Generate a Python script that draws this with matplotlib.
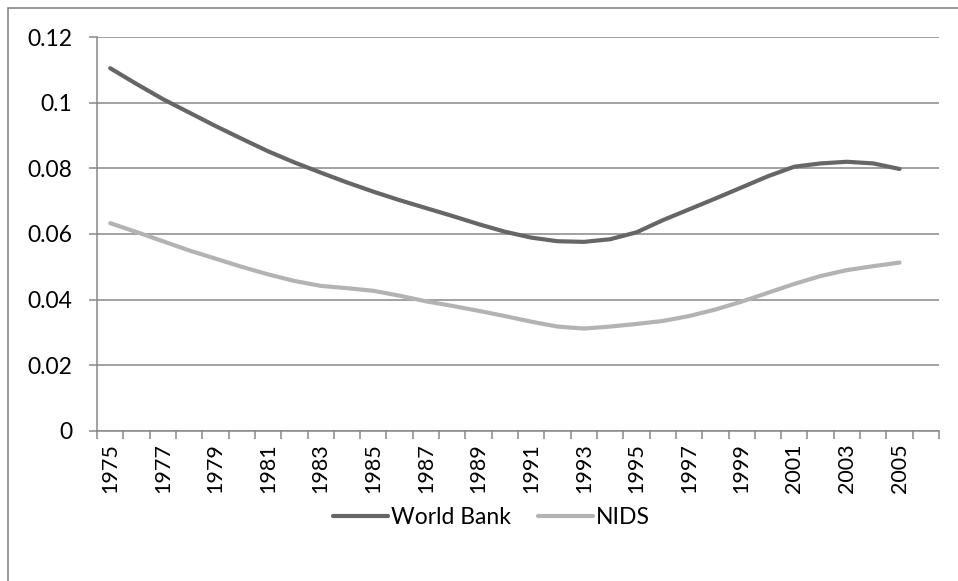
import matplotlib.pyplot as plt
from matplotlib.patches import Rectangle

# yearly series, 1975-2005 (axis runs one empty slot to 2006)
years = list(range(1975, 2007))
world_bank = [0.1105, 0.1057, 0.1011, 0.0970, 0.0929, 0.0890, 0.0852, 0.0818,
              0.0787, 0.0757, 0.0729, 0.0703, 0.0679, 0.0655, 0.0630, 0.0607,
              0.0589, 0.0578, 0.0576, 0.0584, 0.0605, 0.0642, 0.0675, 0.0708,
              0.0742, 0.0776, 0.0805, 0.0815, 0.0820, 0.0815, 0.0798]
nids = [0.0633, 0.0606, 0.0578, 0.0550, 0.0525, 0.0500, 0.0477, 0.0457,
        0.0442, 0.0435, 0.0427, 0.0412, 0.0395, 0.0381, 0.0366, 0.0350,
        0.0333, 0.0318, 0.0312, 0.0318, 0.0326, 0.0335, 0.0350, 0.0370,
        0.0394, 0.0421, 0.0448, 0.0472, 0.0490, 0.0502, 0.0513]
y_ticks = [0, 0.02, 0.04, 0.06, 0.08, 0.1, 0.12]
y_labels = ['0', '0.02', '0.04', '0.06', '0.08', '0.1', '0.12']

plt.rcParams['font.family'] = ['Lato', 'DejaVu Sans']
grey = '#888888'

fig = plt.figure(figsize=(9.58, 5.81), dpi=100)
ax = fig.add_axes([0.1013, 0.2582, 0.8789, 0.6781])

x = list(range(len(world_bank)))
ax.plot(x, world_bank, color='#666666', lw=3.0, solid_capstyle='round',
        label='World Bank', zorder=3)
ax.plot(x, nids, color='#b3b3b3', lw=3.0, solid_capstyle='round',
        label='NIDS', zorder=3)

ax.set_xlim(-0.5, len(years) - 0.5)
ax.set_ylim(0, 0.12)

ax.set_yticks(y_ticks)
ax.set_yticklabels(y_labels)
ax.yaxis.grid(True, color=grey, lw=1.1)
ax.set_axisbelow(True)

# labels on every other category, ticks on the category boundaries
ax.set_xticks(list(range(0, len(years), 2)))
ax.set_xticklabels([str(y) for y in years[::2]], rotation=90)
ax.set_xticks([i - 0.5 for i in range(len(years) + 1)], minor=True)
ax.tick_params(axis='x', which='major', length=0, pad=9, labelsize=15.5)
ax.tick_params(axis='x', which='minor', length=6, width=1.1, color=grey)
ax.tick_params(axis='y', length=6, width=1.1, color=grey, pad=12,
               labelsize=16.5)
ax.tick_params(labelcolor='black')

for side in ['top', 'right']:
    ax.spines[side].set_visible(False)
for side in ['left', 'bottom']:
    ax.spines[side].set_color(grey)
    ax.spines[side].set_linewidth(1.1)

fig.legend(loc='center', bbox_to_anchor=(0.513, 0.11), ncol=2, frameon=False,
           fontsize=16.5, handlelength=2.4, handletextpad=0.1,
           columnspacing=1.2)

# outer chart frame, only the top and left edges fall inside the image
fig.add_artist(Rectangle((8 / 958, -0.2), 1.2, 0.2 + (581 - 8) / 581,
                         transform=fig.transFigure, fill=False,
                         edgecolor=grey, lw=1.2))

fig.savefig('out.png', dpi=100)
